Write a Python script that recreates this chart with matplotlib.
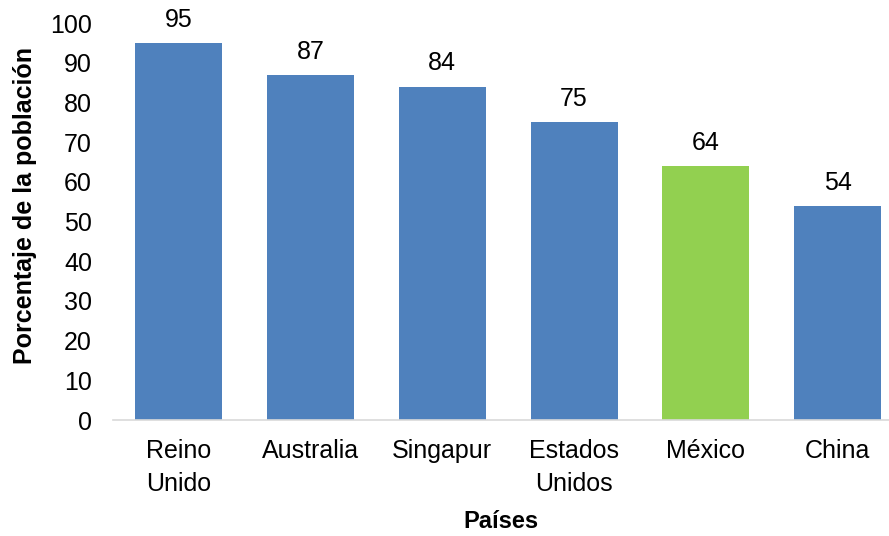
import matplotlib.pyplot as plt
import numpy as np

plt.rcParams['font.family'] = ['Liberation Sans', 'DejaVu Sans']

paises = ['Reino\nUnido', 'Australia', 'Singapur', 'Estados\nUnidos', 'México', 'China']
valores = [95, 87, 84, 75, 64, 54]
colores = ['#4F81BD', '#4F81BD', '#4F81BD', '#4F81BD', '#92D050', '#4F81BD']

fig = plt.figure(figsize=(8.89, 5.36), dpi=100)
ax = fig.add_axes([0.127, 0.2164, 0.873, 0.7406])

x = np.arange(len(paises))
bars = ax.bar(x, valores, width=0.66, color=colores)

for xi, v in zip(x, valores):
    ax.annotate(str(v), (xi, v), xytext=(0, 8), textcoords='offset points',
                ha='center', va='bottom', fontsize=18)

ax.set_ylim(0, 100)
ax.set_yticks(range(0, 101, 10))
ax.set_xlim(-0.5, 5.39)
ax.set_xticks(x)
ax.set_xticklabels(paises, fontsize=18, linespacing=1.45)
ax.tick_params(axis='y', labelsize=18, length=0, pad=15)
ax.tick_params(axis='x', length=0, pad=14)

for s in ['top', 'right', 'left']:
    ax.spines[s].set_visible(False)
ax.spines['bottom'].set_color('#D9D9D9')
ax.spines['bottom'].set_linewidth(1.2)

ax.set_ylabel('Porcentaje de la población', fontsize=18, fontweight='bold')
ax.yaxis.set_label_coords(-0.098, 0.54)
ax.set_xlabel('Países', fontsize=17, fontweight='bold', labelpad=10)

fig.savefig('out.png', dpi=100)
